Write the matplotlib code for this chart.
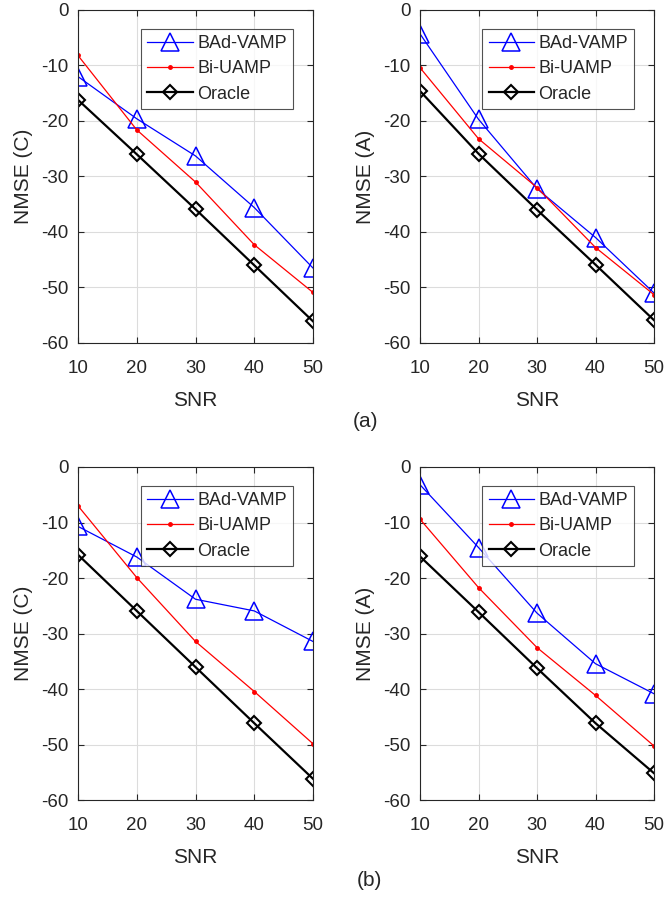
import matplotlib
matplotlib.use('Agg')
import matplotlib.pyplot as plt

plt.rcParams['font.family'] = ['Liberation Sans', 'DejaVu Sans']
plt.rcParams['axes.unicode_minus'] = False

# SNR points
snr = [10, 20, 30, 40, 50]

# (a) NMSE values
a_c_bad = [-12.0, -19.6, -26.3, -35.6, -46.5]
a_c_biu = [-8.2, -21.6, -31.0, -42.3, -50.9]
a_c_orc = [-16.2, -26.0, -35.9, -46.0, -56.1]
a_a_bad = [-4.3, -19.7, -32.2, -41.0, -51.0]
a_a_biu = [-10.4, -23.2, -32.0, -42.8, -51.3]
a_a_orc = [-14.6, -25.9, -36.0, -45.9, -55.9]

# (b)
b_c_bad = [-10.7, -16.2, -23.8, -25.9, -31.4]
b_c_biu = [-7.0, -19.9, -31.4, -40.4, -49.8]
b_c_orc = [-15.8, -25.9, -36.0, -46.1, -56.1]
b_a_bad = [-3.2, -14.5, -26.3, -35.4, -40.8]
b_a_biu = [-9.4, -21.7, -32.5, -41.1, -50.2]
b_a_orc = [-16.1, -26.1, -36.2, -46.1, -55.1]

xticks = [10, 20, 30, 40, 50]
yticks = [-60, -50, -40, -30, -20, -10, 0]

fig = plt.figure(figsize=(6.65, 8.99), dpi=100)

panels = [
    ([0.1173, 0.6185, 0.3534, 0.3704], 'NMSE (C)', a_c_bad, a_c_biu, a_c_orc),
    ([0.6316, 0.6185, 0.3519, 0.3704], 'NMSE (A)', a_a_bad, a_a_biu, a_a_orc),
    ([0.1173, 0.1096, 0.3534, 0.3710], 'NMSE (C)', b_c_bad, b_c_biu, b_c_orc),
    ([0.6316, 0.1096, 0.3519, 0.3710], 'NMSE (A)', b_a_bad, b_a_biu, b_a_orc),
]

axcol = '#262626'
for rect, ylab, bad, biu, orc in panels:
    ax = fig.add_axes(rect)
    ax.plot(snr, bad, color='blue', lw=0.9, marker='^', ms=13, mfc='none',
            mec='blue', mew=1.1, label='BAd-VAMP')
    ax.plot(snr, biu, color='red', lw=0.9, marker='.', ms=5, label='Bi-UAMP')
    ax.plot(snr, orc, color='black', lw=1.6, marker='D', ms=7.5, mfc='none',
            mec='black', mew=1.5, label='Oracle')
    ax.set_xlim(10, 50)
    ax.set_ylim(-60, 0)
    ax.set_xticks(xticks)
    ax.set_yticks(yticks)
    ax.set_xlabel('SNR', fontsize=15, color=axcol, labelpad=10)
    ax.set_ylabel(ylab, fontsize=15, color=axcol, labelpad=6)
    ax.grid(True, color='#dcdcdc', lw=0.8)
    ax.set_axisbelow(True)
    ax.tick_params(direction='in', top=True, right=True, labelsize=13.5,
                   colors=axcol, length=4)
    ax.tick_params(axis='x', pad=12)
    ax.tick_params(axis='y', pad=7)
    for s in ax.spines.values():
        s.set_color(axcol)
        s.set_linewidth(0.8)
    leg = ax.legend(loc='upper right', bbox_to_anchor=(0.915, 0.943),
                    fontsize=13, frameon=True, fancybox=False,
                    borderpad=0.35, labelspacing=0.45, handlelength=2.5,
                    handletextpad=0.25, borderaxespad=0)
    leg.get_frame().set_edgecolor(axcol)
    leg.get_frame().set_linewidth(0.8)
    for t in leg.get_texts():
        t.set_color(axcol)

fig.text(0.549, 1 - 422 / 899, '(a)', fontsize=15, color=axcol, ha='center', va='center')
fig.text(0.556, 1 - 880 / 899, '(b)', fontsize=15, color=axcol, ha='center', va='center')

fig.savefig('out.png', dpi=100)
